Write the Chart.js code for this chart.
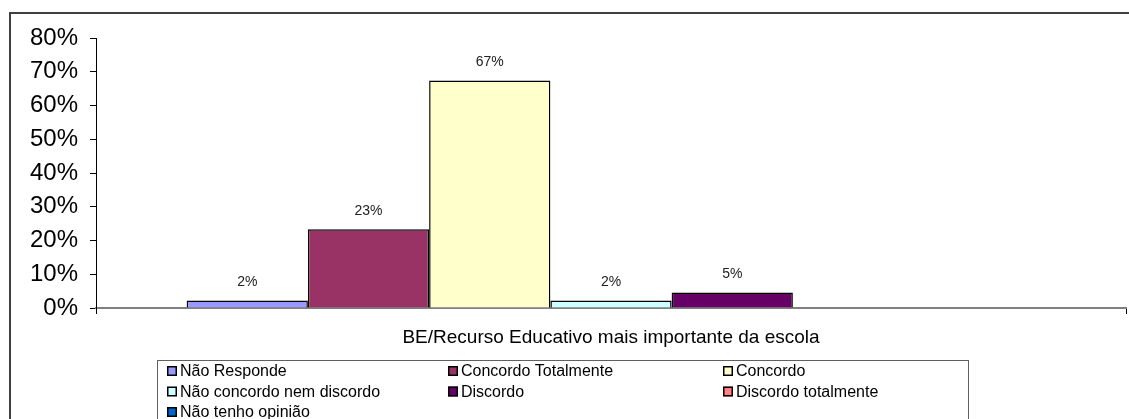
<!DOCTYPE html>
<html>
<head>
<meta charset="utf-8">
<script src="https://cdn.jsdelivr.net/npm/chart.js@4"></script>
<style>
  html, body { margin: 0; padding: 0; background: #fff; }
  canvas { display: block; }
</style>
</head>
<body>
<canvas id="chart" width="1129" height="419"></canvas>
<script>
// --- Data ---
const categories = ['BE/Recurso Educativo mais importante da escola'];
const seriesNames = [
    'Não Responde',
    'Concordo Totalmente',
    'Concordo',
    'Não concordo nem discordo',
    'Discordo',
    'Discordo totalmente',
    'Não tenho opinião'
];
const seriesValues = [2.2, 23.3, 67.4, 2.2, 4.6, 0, 0];
const seriesColors = ['#9999FF', '#993366', '#FFFFCC', '#CCFFFF', '#660066', '#FF8080', '#0066CC'];
const yTicks = [0, 10, 20, 30, 40, 50, 60, 70, 80];

const FONT = '"Liberation Sans", Arial, sans-serif';

// --- Plugins ---
// value labels above each bar
const barLabels = {
    id: 'barLabels',
    afterDatasetsDraw(chart) {
        const ctx = chart.ctx;
        ctx.save();
        ctx.font = '14px ' + FONT;
        ctx.fillStyle = '#222';
        ctx.textAlign = 'center';
        ctx.textBaseline = 'middle';
        chart.data.datasets.forEach((ds, i) => {
            const v = ds.data[0];
            if (!v) return;
            const bar = chart.getDatasetMeta(i).data[0];
            ctx.fillText(Math.round(v) + '%', bar.x, bar.y - 18);
        });
        ctx.restore();
    }
};

// outer frame + boxed legend in 3 columns
const frameAndLegend = {
    id: 'frameAndLegend',
    afterDraw(chart) {
        const ctx = chart.ctx;
        ctx.save();
        ctx.strokeStyle = '#404040';
        ctx.lineWidth = 2;
        ctx.beginPath();
        ctx.moveTo(1129, 13);
        ctx.lineTo(10, 13);
        ctx.lineTo(10, 419);
        ctx.stroke();

        ctx.strokeStyle = '#606060';
        ctx.lineWidth = 1;
        ctx.strokeRect(157.5, 360.5, 811, 100);

        const colX = [167, 448, 723];
        const rowY = [371, 391.5, 412];
        ctx.font = '16px ' + FONT;
        ctx.textBaseline = 'middle';
        ctx.textAlign = 'left';
        chart.data.datasets.forEach((ds, i) => {
            const x = colX[i % 3];
            const y = rowY[Math.floor(i / 3)];
            ctx.fillStyle = ds.backgroundColor;
            ctx.fillRect(x, y - 5, 10, 10);
            ctx.strokeStyle = '#000';
            ctx.lineWidth = 1.5;
            ctx.strokeRect(x + 0.75, y - 4.25, 8.5, 8.5);
            ctx.fillStyle = '#000';
            ctx.fillText(ds.label, x + 13, y + 1);
        });
        ctx.restore();
    }
};

// --- Chart ---
const datasets = seriesNames.map((name, i) => ({
    label: name,
    data: [seriesValues[i]],
    backgroundColor: seriesColors[i],
    borderColor: '#000',
    borderWidth: 1.5,
    borderSkipped: 'bottom'
}));

new Chart(document.getElementById('chart').getContext('2d'), {
    type: 'bar',
    data: { labels: categories, datasets: datasets },
    options: {
        responsive: false,
        animation: false,
        devicePixelRatio: 1,
        categoryPercentage: 0.824,
        barPercentage: 1,
        layout: { padding: { left: 0, right: 3, top: 38, bottom: 0 } },
        plugins: {
            legend: { display: false },
            tooltip: { enabled: false }
        },
        scales: {
            x: {
                afterFit: (s) => { s.height = 111; },
                grid: { drawOnChartArea: false, tickLength: 6, color: ['#000', '#404040'], lineWidth: 1 },
                border: { color: '#808080', width: 2 },
                ticks: { font: { family: FONT, size: 19 }, color: '#000', padding: 12 }
            },
            y: {
                min: 0,
                max: 80,
                afterFit: (s) => { s.width = 96; },
                afterBuildTicks: (s) => { s.ticks = yTicks.map(v => ({ value: v })); },
                grid: { drawOnChartArea: false, tickLength: 6, color: '#000' },
                border: { color: '#000', width: 1 },
                ticks: {
                    font: { family: FONT, size: 24 },
                    color: '#000',
                    padding: 12,
                    callback: (v) => v + '%'
                }
            }
        }
    },
    plugins: [barLabels, frameAndLegend]
});
</script>
</body>
</html>
